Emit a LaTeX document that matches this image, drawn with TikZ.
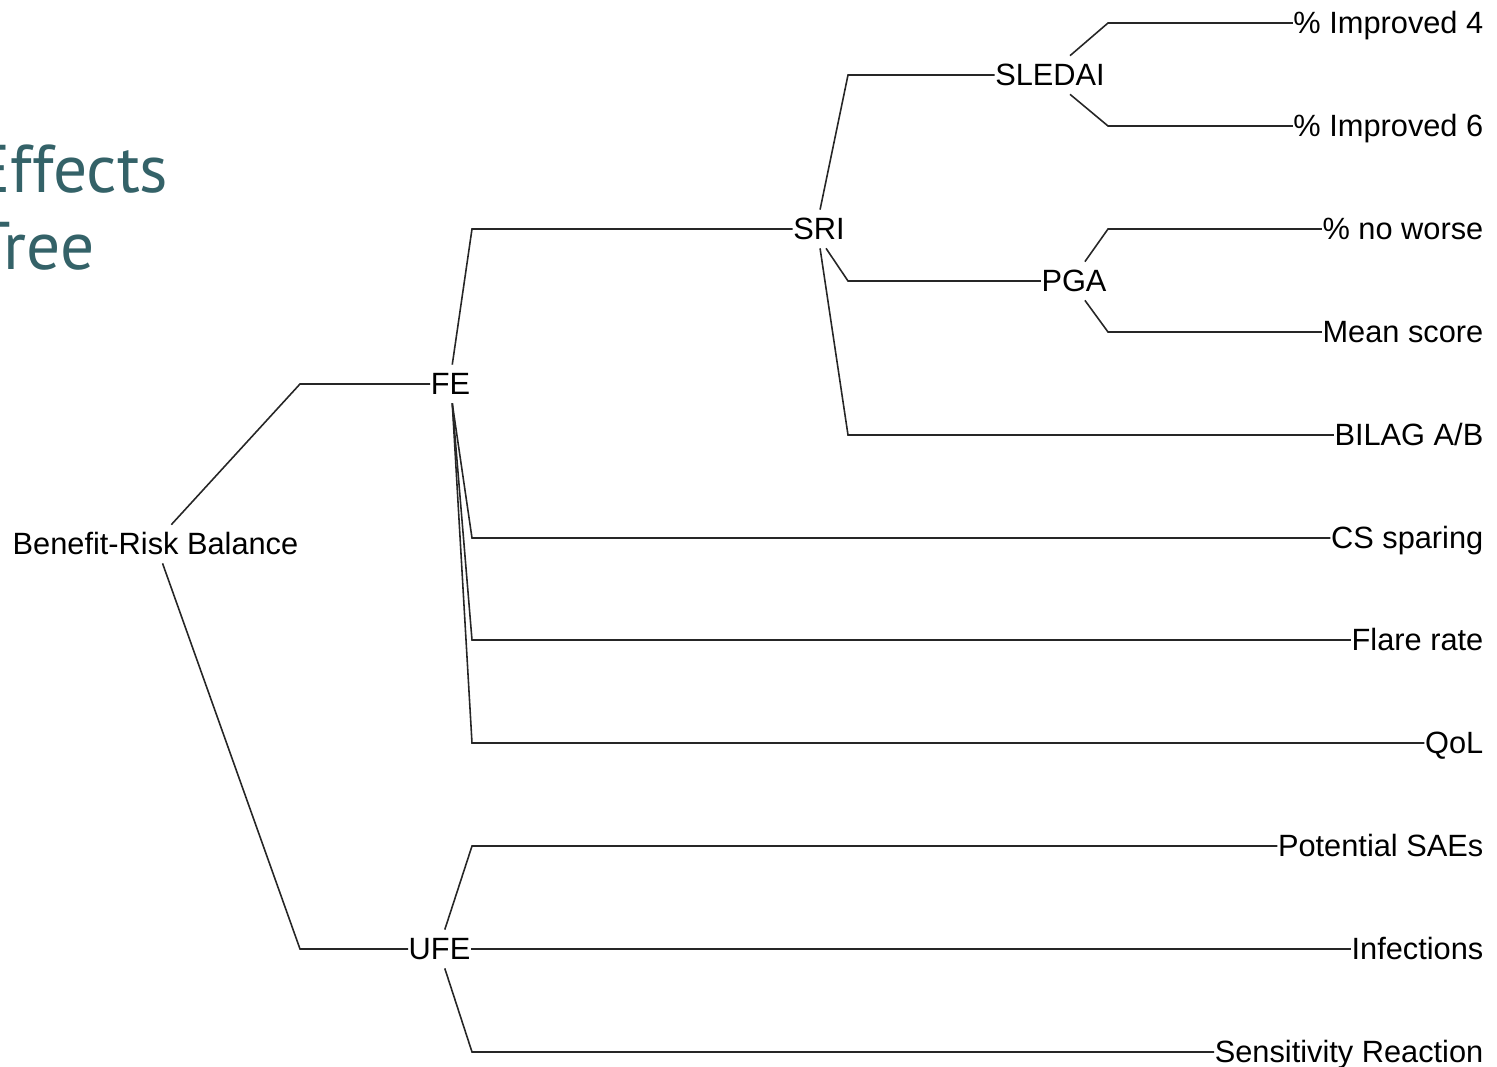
\documentclass[tikz,border=0pt]{standalone}
\usepackage{fontspec}
\setmainfont{Liberation Sans}
\newfontfamily\titlefont{PT Sans}
\usepackage{xcolor}
\definecolor{titleteal}{RGB}{52,98,104}
\newcommand{\branch}[3]{\draw[link] (#1) -- (#2 |- #3.west) -- (#3.west);}

\begin{document}
\begin{tikzpicture}[x=0.01cm,y=-0.01cm,
    lbl/.style={inner xsep=0pt,inner ysep=2.2pt,text height=6.2pt,text depth=0pt,font=\fontsize{8.75}{10}\selectfont},
    leaf/.style={lbl,anchor=east},
    link/.style={line width=0.45pt,black!85}]
      \useasboundingbox (0,0) rectangle (1497,1067);
      \clip (0,0) rectangle (1497,1067);
      % title, cut off by the left edge
      \node[anchor=base east,inner sep=0pt,titleteal,font=\titlefont\fontsize{19.2}{22}\selectfont] (ttl1) at (169,193) {Effects};
      \node[anchor=base east,inner sep=0pt,titleteal,font=\titlefont\fontsize{19.2}{22}\selectfont] (ttl2) at (95,270) {Tree};
      % x of the bends
      \coordinate (k1) at (300,0);
      \coordinate (k2) at (472,0);
      \coordinate (k3) at (848,0);
      \coordinate (k4) at (1108,0);
      % inner nodes
      \node[lbl] (brb) at (155.5,544) {Benefit-Risk Balance};
      \node[lbl] (fe) at (450.5,384) {FE};
      \node[lbl] (ufe) at (439.5,949) {UFE};
      \node[lbl] (sri) at (819,229) {SRI};
      \node[lbl] (sledai) at (1050,75) {SLEDAI};
      \node[lbl] (pga) at (1074,281) {PGA};
      % leaves
      \node[leaf] (imp4) at (1484,23) {\% Improved 4};
      \node[leaf] (imp6) at (1484,126) {\% Improved 6};
      \node[leaf] (noworse) at (1484,229) {\% no worse};
      \node[leaf] (mean) at (1484,332) {Mean score};
      \node[leaf] (bilag) at (1484,435) {BILAG A/B};
      \node[leaf] (cs) at (1484,538) {CS sparing};
      \node[leaf] (flare) at (1484,640) {Flare rate};
      \node[leaf] (qol) at (1484,743) {QoL};
      \node[leaf] (sae) at (1484,846) {Potential SAEs};
      \node[leaf] (inf) at (1484,949) {Infections};
      \node[leaf] (sens) at (1484,1052) {Sensitivity Reaction};
      % branches
      \branch{[xshift=4.5pt]brb.north}{k1}{fe}
      \branch{[xshift=2pt]brb.south}{k1}{ufe}
      \branch{[xshift=0.5pt]fe.north}{k2}{sri}
      \branch{[xshift=0.5pt]fe.south}{k2}{cs}
      \branch{[xshift=0.5pt]fe.south}{k2}{flare}
      \branch{[xshift=0.5pt]fe.south}{k2}{qol}
      \branch{[xshift=1.5pt]ufe.north}{k2}{sae}
      \draw[link] (ufe.east) -- (inf.west);
      \branch{[xshift=1.5pt]ufe.south}{k2}{sens}
      \branch{[xshift=0.3pt]sri.north}{k3}{sledai}
      \branch{[xshift=2pt]sri.south}{k3}{pga}
      \branch{[xshift=0.3pt]sri.south}{k3}{bilag}
      \branch{[xshift=5.7pt]sledai.north}{k4}{imp4}
      \branch{[xshift=5.7pt]sledai.south}{k4}{imp6}
      \branch{[xshift=3.1pt]pga.north}{k4}{noworse}
      \branch{[xshift=3.1pt]pga.south}{k4}{mean}
\end{tikzpicture}
\end{document}
